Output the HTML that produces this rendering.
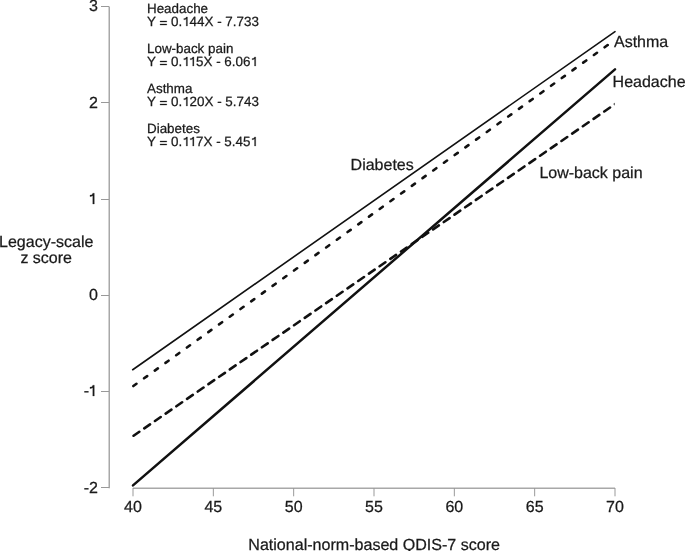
<!DOCTYPE html>
<html><head><meta charset="utf-8"><style>
html,body{margin:0;padding:0;background:#fff;width:685px;height:551px;overflow:hidden}
svg{display:block;will-change:transform}
text{font-family:"Liberation Sans",sans-serif;fill:#1a1a1a;stroke:#1a1a1a;stroke-width:0.25px;text-rendering:geometricPrecision}
tspan[fill=transparent]{stroke:none}
path{fill:#1a1a1a;stroke:#1a1a1a;stroke-width:0.25px;vector-effect:non-scaling-stroke}
</style></head><body>
<svg width="685" height="551" viewBox="0 0 685 551">
<defs><clipPath id="pc"><rect x="0" y="0" width="614.6" height="551"/></clipPath></defs>
<rect width="685" height="551" fill="#fff"/>
<line x1="109.25" y1="6.50" x2="109.25" y2="488.20" stroke="#a8a8a8" stroke-width="1.5"/>
<line x1="101" y1="6.5" x2="109" y2="6.5" stroke="#999" stroke-width="1"/>
<line x1="101" y1="102.5" x2="109" y2="102.5" stroke="#999" stroke-width="1"/>
<line x1="101" y1="199.5" x2="109" y2="199.5" stroke="#999" stroke-width="1"/>
<line x1="101" y1="295.5" x2="109" y2="295.5" stroke="#999" stroke-width="1"/>
<line x1="101" y1="391.5" x2="109" y2="391.5" stroke="#999" stroke-width="1"/>
<line x1="101" y1="487.5" x2="109" y2="487.5" stroke="#999" stroke-width="1"/>
<line x1="133.00" y1="488.2" x2="615.00" y2="488.2" stroke="#a8a8a8" stroke-width="1.5"/>
<line x1="133.00" y1="488" x2="133.00" y2="496.3" stroke="#999" stroke-width="1"/>
<line x1="213.33" y1="488" x2="213.33" y2="496.3" stroke="#999" stroke-width="1"/>
<line x1="293.67" y1="488" x2="293.67" y2="496.3" stroke="#999" stroke-width="1"/>
<line x1="374.00" y1="488" x2="374.00" y2="496.3" stroke="#999" stroke-width="1"/>
<line x1="454.33" y1="488" x2="454.33" y2="496.3" stroke="#999" stroke-width="1"/>
<line x1="534.67" y1="488" x2="534.67" y2="496.3" stroke="#999" stroke-width="1"/>
<line x1="615.00" y1="488" x2="615.00" y2="496.3" stroke="#999" stroke-width="1"/>
<line x1="132.70" y1="369.72" x2="615.00" y2="31.62" stroke="#111" stroke-width="1.6" stroke-linecap="round"/>
<line x1="133.00" y1="386.27" x2="615.00" y2="39.81" stroke="#111" stroke-width="2.6" stroke-linecap="round" stroke-dasharray="3.8 9.39" stroke-dashoffset="-0.45" clip-path="url(#pc)"/>
<line x1="133.00" y1="436.13" x2="615.00" y2="104.10" stroke="#111" stroke-width="2.6" stroke-linecap="round" stroke-dasharray="7.0 5.99" stroke-dashoffset="-0.7" clip-path="url(#pc)"/>
<line x1="133.00" y1="485.40" x2="615.00" y2="69.34" stroke="#111" stroke-width="2.5" stroke-linecap="round"/>
<text id="t0" x="98.00" y="11" text-anchor="end" font-size="16">3</text>
<text id="t1" x="98.00" y="108" text-anchor="end" font-size="16">2</text>
<text id="t2" x="98.00" y="204" text-anchor="end" font-size="16"><tspan fill="transparent">1</tspan></text>
<text id="t3" x="98.00" y="300" text-anchor="end" font-size="16">0</text>
<text id="t4" x="98.00" y="396" text-anchor="end" font-size="16">-<tspan fill="transparent">1</tspan></text>
<text id="t5" x="98.00" y="493" text-anchor="end" font-size="16">-2</text>
<text id="t6" x="133.00" y="512" text-anchor="middle" font-size="16">40</text>
<text id="t7" x="213.33" y="512" text-anchor="middle" font-size="16">45</text>
<text id="t8" x="293.67" y="512" text-anchor="middle" font-size="16">50</text>
<text id="t9" x="374.00" y="512" text-anchor="middle" font-size="16">55</text>
<text id="t10" x="454.33" y="512" text-anchor="middle" font-size="16">60</text>
<text id="t11" x="534.67" y="512" text-anchor="middle" font-size="16">65</text>
<text id="t12" x="615.00" y="512" text-anchor="middle" font-size="16">70</text>
<text id="t13" x="147.00" y="13" font-size="13.4">Headache</text>
<text id="t14" x="147.00" y="26" font-size="13.4">Y <tspan fill="transparent">=</tspan> 0.<tspan fill="transparent">1</tspan>44X - 7.733</text>
<text id="t15" x="147.00" y="53" font-size="13.4">Low-back pain</text>
<text id="t16" x="147.00" y="66" font-size="13.4">Y <tspan fill="transparent">=</tspan> 0.<tspan fill="transparent">1</tspan><tspan fill="transparent">1</tspan>5X - 6.06<tspan fill="transparent">1</tspan></text>
<text id="t17" x="147.00" y="93" font-size="13.4">Asthma</text>
<text id="t18" x="147.00" y="106" font-size="13.4">Y <tspan fill="transparent">=</tspan> 0.<tspan fill="transparent">1</tspan>20X - 5.743</text>
<text id="t19" x="147.00" y="133" font-size="13.4">Diabetes</text>
<text id="t20" x="147.00" y="146" font-size="13.4">Y <tspan fill="transparent">=</tspan> 0.<tspan fill="transparent">1</tspan><tspan fill="transparent">1</tspan>7X - 5.45<tspan fill="transparent">1</tspan></text>
<text id="t21" x="614.00" y="47" font-size="16">Asthma</text>
<text id="t22" x="612.60" y="87" font-size="16">Headache</text>
<text id="t23" x="350.60" y="170" font-size="16">Diabetes</text>
<text id="t24" x="539.40" y="178" font-size="16">Low-back pain</text>
<text id="t25" x="46.20" y="247" text-anchor="middle" font-size="16">Legacy-scale</text>
<text id="t26" x="46.20" y="263" text-anchor="middle" font-size="16">z score</text>
<text id="t27" x="248.30" y="550" font-size="16.07">National-norm-based QDIS-7 score</text>
<path transform="translate(89.09,204) scale(16)" d="M0.325,0 L0.231,0 L0.231,-0.515 C0.19,-0.485 0.12,-0.465 0.056,-0.465 L0.056,-0.555 C0.15,-0.56 0.215,-0.59 0.235,-0.675 L0.325,-0.675 Z"/>
<path transform="translate(89.09,396) scale(16)" d="M0.325,0 L0.231,0 L0.231,-0.515 C0.19,-0.485 0.12,-0.465 0.056,-0.465 L0.056,-0.555 C0.15,-0.56 0.215,-0.59 0.235,-0.675 L0.325,-0.675 Z"/>
<path transform="translate(159.42,26) scale(13.4)" d="M0.05,-0.377 H0.548 V-0.295 H0.05 Z M0.05,-0.153 H0.548 V-0.071 H0.05 Z"/>
<path transform="translate(182.14,26) scale(13.4)" d="M0.395,0 L0.31,0 L0.31,-0.515 C0.26,-0.485 0.19,-0.465 0.126,-0.465 L0.126,-0.555 C0.22,-0.56 0.29,-0.59 0.31,-0.675 L0.395,-0.675 Z"/>
<path transform="translate(159.42,66) scale(13.4)" d="M0.05,-0.377 H0.548 V-0.295 H0.05 Z M0.05,-0.153 H0.548 V-0.071 H0.05 Z"/>
<path transform="translate(182.14,66) scale(13.4)" d="M0.395,0 L0.31,0 L0.31,-0.515 C0.26,-0.485 0.19,-0.465 0.126,-0.465 L0.126,-0.555 C0.22,-0.56 0.29,-0.59 0.31,-0.675 L0.395,-0.675 Z"/>
<path transform="translate(188.59,66) scale(13.4)" d="M0.395,0 L0.31,0 L0.31,-0.515 C0.26,-0.485 0.19,-0.465 0.126,-0.465 L0.126,-0.555 C0.22,-0.56 0.29,-0.59 0.31,-0.675 L0.395,-0.675 Z"/>
<path transform="translate(250.39,66) scale(13.4)" d="M0.395,0 L0.31,0 L0.31,-0.515 C0.26,-0.485 0.19,-0.465 0.126,-0.465 L0.126,-0.555 C0.22,-0.56 0.29,-0.59 0.31,-0.675 L0.395,-0.675 Z"/>
<path transform="translate(159.42,106) scale(13.4)" d="M0.05,-0.377 H0.548 V-0.295 H0.05 Z M0.05,-0.153 H0.548 V-0.071 H0.05 Z"/>
<path transform="translate(182.14,106) scale(13.4)" d="M0.395,0 L0.31,0 L0.31,-0.515 C0.26,-0.485 0.19,-0.465 0.126,-0.465 L0.126,-0.555 C0.22,-0.56 0.29,-0.59 0.31,-0.675 L0.395,-0.675 Z"/>
<path transform="translate(159.42,146) scale(13.4)" d="M0.05,-0.377 H0.548 V-0.295 H0.05 Z M0.05,-0.153 H0.548 V-0.071 H0.05 Z"/>
<path transform="translate(182.14,146) scale(13.4)" d="M0.395,0 L0.31,0 L0.31,-0.515 C0.26,-0.485 0.19,-0.465 0.126,-0.465 L0.126,-0.555 C0.22,-0.56 0.29,-0.59 0.31,-0.675 L0.395,-0.675 Z"/>
<path transform="translate(188.59,146) scale(13.4)" d="M0.395,0 L0.31,0 L0.31,-0.515 C0.26,-0.485 0.19,-0.465 0.126,-0.465 L0.126,-0.555 C0.22,-0.56 0.29,-0.59 0.31,-0.675 L0.395,-0.675 Z"/>
<path transform="translate(250.39,146) scale(13.4)" d="M0.395,0 L0.31,0 L0.31,-0.515 C0.26,-0.485 0.19,-0.465 0.126,-0.465 L0.126,-0.555 C0.22,-0.56 0.29,-0.59 0.31,-0.675 L0.395,-0.675 Z"/>
</svg>
</body></html>
